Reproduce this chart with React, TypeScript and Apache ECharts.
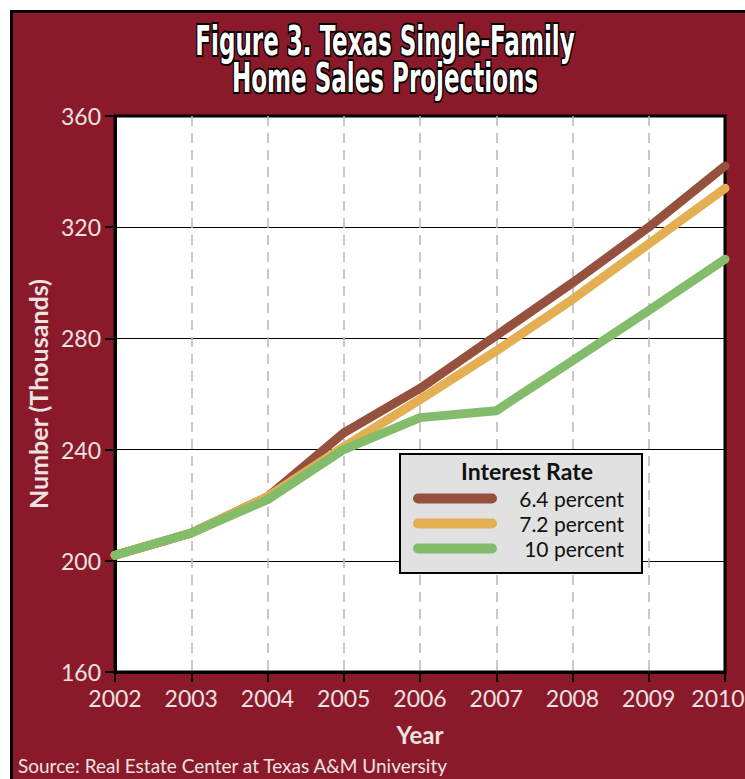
import React, { useEffect, useRef } from "react";
import * as echarts from "echarts";

const years = ["2002", "2003", "2004", "2005", "2006", "2007", "2008", "2009", "2010"];
const seriesNames = ["6.4 percent", "7.2 percent", "10 percent"];
const rate64 = [202, 210, 223, 246, 262, 281, 300, 320, 342];
const rate72 = [202, 210, 223, 241, 258, 275.5, 294, 314, 334];
const rate10 = [202, 210, 222, 240, 251.5, 254, 272, 290, 308.5];
const seriesColors = ["#95503E", "#E4AF52", "#83BC6A"];
const yTicks = { min: 160, max: 360, interval: 40 };

const RED = "#8A1A2A";
const LIGHT = "#ECE2E2";
const capsule = "path://M5,0 H79 A5,5 0 0 1 79,10 H5 A5,5 0 0 1 5,0 Z";

export default function App() {
  const ref = useRef<HTMLDivElement>(null);
  useEffect(() => {
    if (!ref.current) return;
    const chart = echarts.init(ref.current, null, { renderer: "svg" });
    const values = [rate64, rate72, rate10];
    const titleStyle = {
      fontFamily: "DejaVu Sans Condensed, DejaVu Sans",
      fontWeight: "bold",
      fontSize: 40,
      fill: "#fff",
      stroke: "#000",
      lineWidth: 4,
      textAlign: "center",
      textVerticalAlign: "middle",
    };
    const lastIdx = years.length - 1;
    chart.setOption({
      animation: false,
      backgroundColor: RED,
      grid: {
        left: 115,
        right: 20,
        top: 116,
        bottom: 107,
        outerBoundsMode: "none",
        containLabel: false,
        show: true,
        backgroundColor: "#ffffff",
        borderColor: "#000",
        borderWidth: 3,
      },
      xAxis: {
        type: "category",
        data: years,
        boundaryGap: false,
        name: "Year",
        nameLocation: "middle",
        nameGap: 50,
        nameTextStyle: { color: LIGHT, fontFamily: "Lato", fontWeight: "bold", fontSize: 24 },
        axisLine: { lineStyle: { color: "#000", width: 3 } },
        axisTick: { show: true, interval: 0, length: 10, lineStyle: { color: "#000", width: 2 } },
        axisLabel: {
          interval: 0,
          hideOverlap: false,
          color: LIGHT,
          fontFamily: "Lato",
          fontSize: 23,
          margin: 14,
          formatter: (v: string, i: number) => (i === lastIdx ? `{last|${v}}` : v),
          rich: { last: { color: LIGHT, fontFamily: "Lato", fontSize: 23, padding: [0, 14, 0, 0] } },
        },
        splitLine: {
          show: true,
          interval: (i: number) => i !== 0 && i !== lastIdx,
          lineStyle: { color: "#B8B8B8", width: 1.5, type: [10, 7] },
        },
      },
      yAxis: {
        type: "value",
        min: yTicks.min,
        max: yTicks.max,
        interval: yTicks.interval,
        name: "Number (Thousands)",
        nameLocation: "middle",
        nameGap: 64,
        nameRotate: 90,
        nameTextStyle: { color: LIGHT, fontFamily: "Lato", fontWeight: "bold", fontSize: 25 },
        axisLine: { show: true, lineStyle: { color: "#000", width: 3 } },
        axisTick: { show: true, length: 10, lineStyle: { color: "#000", width: 2 } },
        axisLabel: { color: LIGHT, fontFamily: "Lato", fontSize: 23, margin: 14 },
        splitLine: { show: true, lineStyle: { color: "#000", width: 1.2 } },
      },
      legend: {
        orient: "vertical",
        left: 408,
        top: 483,
        data: seriesNames,
        icon: capsule,
        itemWidth: 84,
        itemHeight: 10,
        itemGap: 4,
        formatter: "{a|{name}}",
        textStyle: {
          rich: {
            a: { width: 122, align: "right", fontFamily: "Lato", fontSize: 21, lineHeight: 23, color: "#111" },
          },
        },
        z: 10,
      },
      graphic: [
        { type: "rect", shape: { x: 0, y: 0, width: 745, height: 10 }, style: { fill: "#fff" }, z: 50 },
        { type: "rect", shape: { x: 0, y: 0, width: 10, height: 779 }, style: { fill: "#fff" }, z: 50 },
        { type: "rect", shape: { x: 10, y: 10, width: 735, height: 3 }, style: { fill: "#000" }, z: 50 },
        { type: "rect", shape: { x: 10, y: 10, width: 3, height: 769 }, style: { fill: "#000" }, z: 50 },
        {
          type: "text",
          x: 385,
          y: 41,
          scaleX: 0.64,
          style: { ...titleStyle, text: "Figure 3. Texas Single-Family" },
          z: 50,
        },
        {
          type: "text",
          x: 385,
          y: 78,
          scaleX: 0.64,
          style: { ...titleStyle, text: "Home Sales Projections" },
          z: 50,
        },
        {
          type: "text",
          left: 18,
          top: 756,
          style: { text: "Source: Real Estate Center at Texas A&M University", fontFamily: "Lato", fontSize: 19, fill: LIGHT },
          z: 50,
        },
        {
          type: "rect",
          shape: { x: 400, y: 454, width: 242, height: 119 },
          style: { fill: "#E0E1E0", stroke: "#000", lineWidth: 2 },
          z: 5,
        },
        {
          type: "text",
          x: 527,
          y: 471,
          style: {
            text: "Interest Rate",
            fontFamily: "Lato",
            fontWeight: "bold",
            fontSize: 23,
            fill: "#111",
            textAlign: "center",
            textVerticalAlign: "middle",
          },
          z: 6,
        },
      ],
      series: values.map((d, i) => ({
        name: seriesNames[i],
        type: "line",
        data: d,
        showSymbol: false,
        symbol: "none",
        clip: true,
        color: seriesColors[i],
        lineStyle: { color: seriesColors[i], width: 9, cap: "round", join: "round" },
        z: 2,
      })),
    });
    return () => chart.dispose();
  }, []);
  return <div ref={ref} style={{ position: "fixed", left: 0, top: 0, width: 745, height: 779 }} />;
}
